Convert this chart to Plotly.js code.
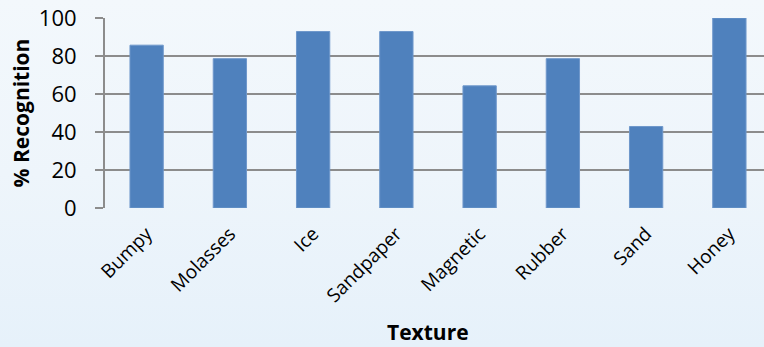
<!DOCTYPE html>
<html>
<head>
<meta charset="utf-8">
<script src="https://cdn.plot.ly/plotly-3.0.1.min.js"></script>
<style>
html,body{margin:0;padding:0;overflow:hidden;width:764px;height:347px;}
body{background:linear-gradient(to bottom,#f3f8fc 0%,#eef5fb 50%,#e6f1fa 100%);}
#chart{width:771px;height:347px;}
</style>
</head>
<body>
<div id="chart"></div>
<script>
const categories = ["Bumpy","Molasses","Ice","Sandpaper","Magnetic","Rubber","Sand","Honey"];
const recognition = [85.7, 78.6, 92.9, 92.9, 64.3, 78.6, 42.9, 100];
const yTicks = [0,20,40,60,80,100];
const xTitle = "Texture";
const yTitle = "% Recognition";

const trace = {
  type: "bar",
  x: categories,
  y: recognition,
  marker: {color: "#4f81bd", line: {color: "#6f98cb", width: 1}},
  hoverinfo: "x+y"
};

const layout = {
  width: 771,
  height: 347,
  margin: {l: 105, r: 0, t: 18, b: 139, pad: 0},
  paper_bgcolor: "rgba(0,0,0,0)",
  plot_bgcolor: "rgba(0,0,0,0)",
  bargap: 0.6,
  showlegend: false,
  font: {family: "Open Sans, sans-serif", color: "#000"},
  xaxis: {
    type: "category",
    tickangle: -45,
    tickfont: {size: 19, family: "Open Sans, sans-serif", color: "#000"},
    showgrid: false,
    showline: false,
    zeroline: false,
    ticks: "",
    ticklabelstandoff: 10
  },
  yaxis: {
    range: [0, 100],
    tickvals: yTicks,
    ticktext: yTicks.map(String),
    tickfont: {size: 22, family: "Open Sans, sans-serif", color: "#000"},
    showgrid: true,
    gridcolor: "#8c8c8c",
    gridwidth: 2,
    zeroline: false,
    showline: true,
    linecolor: "#8c8c8c",
    linewidth: 2,
    ticks: "outside",
    ticklen: 8,
    tickwidth: 2,
    tickcolor: "#8c8c8c",
    ticklabelstandoff: 14,
    title: {text: "<b>" + yTitle + "</b>", font: {size: 21, family: "Open Sans, sans-serif", color: "#000"}, standoff: 3}
  },
  annotations: [{
    text: "<b>" + xTitle + "</b>",
    xref: "paper", yref: "paper",
    x: 0.485, y: -0.655,
    xanchor: "center", yanchor: "middle",
    showarrow: false,
    borderpad: 0,
    font: {size: 21, family: "Open Sans, sans-serif", color: "#000"}
  }]
};

Plotly.newPlot("chart", [trace], layout, {displayModeBar: false, staticPlot: true});
</script>
</body>
</html>
